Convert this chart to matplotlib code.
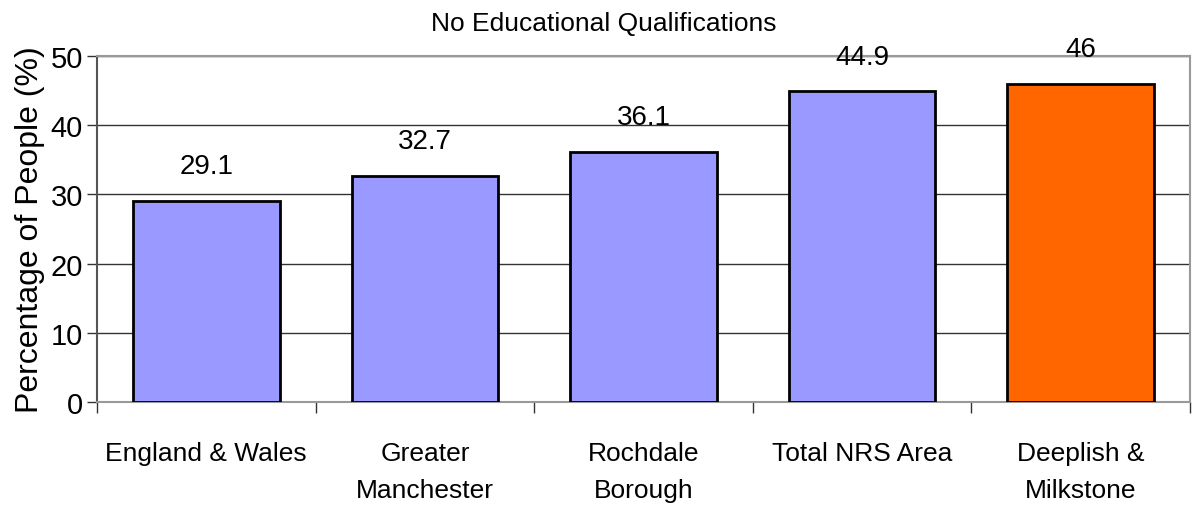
import matplotlib
matplotlib.use("Agg")
import matplotlib.pyplot as plt
import numpy as np
from matplotlib.ticker import FixedLocator

categories = ["England & Wales", "Greater\nManchester", "Rochdale\nBorough", "Total NRS Area", "Deeplish &\nMilkstone"]
values = [29.1, 32.7, 36.1, 44.9, 46]
value_labels = ["29.1", "32.7", "36.1", "44.9", "46"]
colors = ["#9999FF", "#9999FF", "#9999FF", "#9999FF", "#FF6600"]
yticks = [0, 10, 20, 30, 40, 50]

plt.rcParams['font.family'] = ['Liberation Sans', 'DejaVu Sans']

fig = plt.figure(figsize=(11.93, 5.06), dpi=100)
ax = fig.add_axes([97/1193, 1-403/506, (1190-97)/1193, (403-57)/506])

x = np.arange(len(categories))
ax.bar(x, values, width=0.67, color=colors, edgecolor="black", linewidth=2, zorder=3)
for xi, v, lab in zip(x, values, value_labels):
    ax.annotate(lab, (xi, v), xytext=(0, 25), textcoords="offset points",
                ha="center", va="center", fontsize=20, clip_on=False, zorder=4)

ax.set_xlim(-0.5, len(categories) - 0.5)
ax.set_ylim(0, 50)
ax.set_yticks(yticks)
ax.set_yticklabels([str(t) for t in yticks], fontsize=21)
ax.set_xticks(x)
ax.set_xticklabels(categories, fontsize=19, linespacing=1.7, va="top")
ax.xaxis.set_minor_locator(FixedLocator(np.arange(-0.5, len(categories), 1.0)))
ax.tick_params(axis="x", which="major", length=0, pad=28)
ax.tick_params(axis="x", which="minor", length=8, width=1, color="#333333", direction="out")
ax.tick_params(axis="y", length=7, width=1, color="#333333", pad=3)

ax.grid(axis="y", color="#333333", linewidth=1, zorder=0)
ax.set_axisbelow(True)
for s in ["top", "right", "bottom"]:
    ax.spines[s].set_color("#999999")
    ax.spines[s].set_linewidth(1.5)
ax.spines["left"].set_color("#555555")
ax.spines["left"].set_linewidth(1.5)

ax.set_ylabel("Percentage of People (%)", fontsize=23, labelpad=4)
fig.text(604/1193, 1-24/506, "No Educational Qualifications", fontsize=19,
         ha="center", va="center")

fig.savefig("out.png", dpi=100)
